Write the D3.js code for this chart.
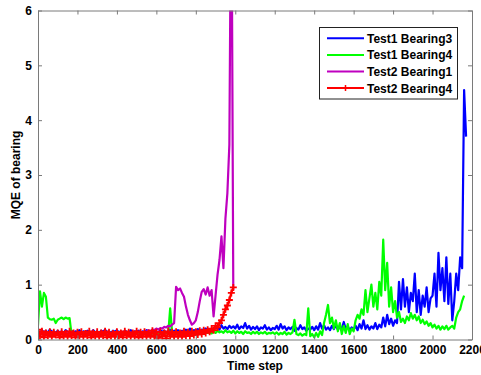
<!DOCTYPE html>
<html>
<head>
<meta charset="utf-8">
<script src="https://cdn.jsdelivr.net/npm/d3@7"></script>
<style>
  body { margin: 0; background: #fff; }
  svg { font-family: Arial, "Liberation Sans", sans-serif; font-weight: bold; }
</style>
</head>
<body>
<svg id="chart" width="481" height="375"></svg>
<script>
// time step between samples
const stepT = 10

const seriesNames = ['Test1 Bearing3', 'Test1 Bearing4', 'Test2 Bearing1', 'Test2 Bearing4']
const seriesColors = ['#0000ff', '#00ff00', '#bf00bf', '#ff0000']

const xTicks = [0, 200, 400, 600, 800, 1000, 1200, 1400, 1600, 1800, 2000, 2200]
const yTicks = [0, 1, 2, 3, 4, 5, 6]

const test1Bearing3 = [
  0.15,0.12,0.17,0.13,0.16,0.12,0.18,0.14,0.15,0.12,
  0.16,0.13,0.15,0.12,0.17,0.14,0.13,0.16,0.12,0.15,
  0.14,0.17,0.12,0.15,0.13,0.16,0.14,0.12,0.17,0.13,
  0.15,0.12,0.16,0.14,0.18,0.13,0.15,0.12,0.16,0.14,
  0.17,0.13,0.15,0.12,0.16,0.14,0.13,0.17,0.12,0.15,
  0.14,0.16,0.12,0.15,0.13,0.17,0.14,0.12,0.16,0.13,
  0.15,0.12,0.17,0.14,0.16,0.13,0.15,0.18,0.13,0.16,
  0.14,0.17,0.13,0.16,0.15,0.18,0.14,0.2,0.15,0.17,
  0.16,0.19,0.15,0.18,0.17,0.2,0.16,0.19,0.18,0.21,
  0.2,0.24,0.18,0.26,0.2,0.23,0.19,0.25,0.21,0.24,
  0.2,0.27,0.19,0.24,0.21,0.3,0.2,0.25,0.18,0.23,
  0.19,0.24,0.17,0.22,0.2,0.26,0.18,0.22,0.17,0.21,
  0.19,0.25,0.18,0.28,0.2,0.24,0.17,0.22,0.19,0.23,
  0.16,0.21,0.18,0.26,0.19,0.22,0.16,0.2,0.18,0.23,
  0.17,0.24,0.18,0.3,0.2,0.26,0.18,0.22,0.17,0.25,
  0.19,0.26,0.18,0.23,0.2,0.32,0.19,0.24,0.17,0.22,
  0.18,0.25,0.17,0.28,0.2,0.35,0.19,0.26,0.18,0.24,
  0.2,0.3,0.19,0.27,0.22,0.4,0.24,0.45,0.28,0.38,
  0.25,0.35,0.3,1.05,0.55,1.1,0.6,0.95,0.5,0.85,
  0.7,1.2,0.5,0.9,0.45,0.8,0.6,0.95,0.5,0.75,
  0.8,1.2,0.6,1.58,0.9,1.3,0.7,1.5,0.65,1.2,
  0.35,0.7,1.2,0.9,1.5,1.3,4.55,3.7
]

const test1Bearing4 = [
  0.25,0.88,0.6,0.85,0.78,0.4,0.37,0.36,0.38,0.3,
  0.36,0.38,0.4,0.37,0.4,0.38,0.39,0.1,0.12,0.09,
  0.11,0.08,0.12,0.1,0.13,0.09,0.11,0.08,0.12,0.1,
  0.09,0.12,0.1,0.13,0.08,0.11,0.1,0.12,0.09,0.11,
  0.12,0.09,0.11,0.1,0.13,0.08,0.12,0.1,0.11,0.09,
  0.1,0.12,0.09,0.11,0.13,0.1,0.12,0.09,0.11,0.1,
  0.12,0.1,0.13,0.11,0.14,0.12,0.1,0.57,0.12,0.13,
  0.1,0.13,0.11,0.12,0.09,0.13,0.1,0.12,0.11,0.13,
  0.12,0.14,0.11,0.13,0.1,0.14,0.12,0.13,0.11,0.15,
  0.12,0.16,0.13,0.15,0.12,0.17,0.13,0.15,0.12,0.16,
  0.11,0.15,0.12,0.14,0.1,0.15,0.12,0.13,0.1,0.14,
  0.11,0.14,0.1,0.13,0.11,0.14,0.1,0.12,0.11,0.13,
  0.1,0.13,0.09,0.12,0.1,0.14,0.09,0.12,0.1,0.13,
  0.36,0.1,0.08,0.11,0.07,0.1,0.08,0.57,0.06,0.1,
  0.04,0.12,0.05,0.15,0.08,0.3,0.45,0.63,0.3,0.4,
  0.2,0.35,0.15,0.3,0.1,0.25,0.12,0.28,0.1,0.2,
  0.15,0.35,0.45,0.38,0.55,0.45,0.9,0.5,0.75,1.0,
  0.6,0.85,0.55,1.05,0.8,1.82,0.9,1.4,0.6,0.95,
  0.5,0.7,0.4,0.5,0.32,0.38,0.3,0.42,0.35,0.48,
  0.38,0.45,0.35,0.42,0.3,0.36,0.28,0.33,0.25,0.3,
  0.22,0.27,0.2,0.25,0.18,0.24,0.19,0.25,0.18,0.22,
  0.25,0.2,0.4,0.5,0.55,0.7,0.8
]

const test2Bearing1 = [
  0.12,0.08,0.14,0.1,0.13,0.09,0.12,0.1,0.14,0.11,
  0.09,0.13,0.1,0.12,0.08,0.14,0.11,0.1,0.13,0.09,
  0.12,0.1,0.14,0.09,0.12,0.11,0.13,0.1,0.12,0.09,
  0.13,0.1,0.12,0.11,0.14,0.09,0.12,0.1,0.13,0.11,
  0.1,0.13,0.11,0.14,0.1,0.12,0.09,0.13,0.11,0.12,
  0.11,0.14,0.12,0.13,0.15,0.14,0.17,0.15,0.18,0.17,
  0.2,0.18,0.21,0.2,0.23,0.22,0.25,0.24,0.27,0.3,
  0.96,0.9,0.93,0.85,0.78,0.6,0.45,0.35,0.27,0.3,
  0.35,0.5,0.7,0.87,0.92,0.82,0.95,0.8,0.9,0.42,
  0.8,1.18,1.45,1.88,1.3,2.2,2.67,3.55,9,0.9
]

const test2Bearing4 = [
  0.18,0.06,0.15,0.04,0.12,0.07,0.14,0.05,0.13,0.08,
  0.12,0.04,0.14,0.06,0.11,0.05,0.15,0.07,0.12,0.04,
  0.13,0.06,0.14,0.05,0.11,0.07,0.15,0.04,0.12,0.06,
  0.14,0.05,0.12,0.07,0.15,0.04,0.13,0.06,0.11,0.05,
  0.14,0.06,0.12,0.04,0.15,0.07,0.13,0.05,0.12,0.06,
  0.15,0.04,0.13,0.06,0.14,0.05,0.12,0.07,0.16,0.05,
  0.13,0.03,0.14,0.06,0.12,0.02,0.15,0.06,0.13,0.05,
  0.14,0.06,0.12,0.05,0.15,0.07,0.13,0.06,0.15,0.08,
  0.14,0.09,0.16,0.1,0.17,0.12,0.18,0.14,0.2,0.17,
  0.25,0.22,0.3,0.35,0.45,0.55,0.62,0.72,0.85,0.95
]

const allSeries = [test1Bearing3, test1Bearing4, test2Bearing1, test2Bearing4]

const mLeft = 38, mRight = 472, mTop = 10.5, mBottom = 339.5

const svg = d3.select('#chart')

const x = d3.scaleLinear().domain([0, 2200]).range([mLeft, mRight])
const y = d3.scaleLinear().domain([0, 6]).range([mBottom, mTop])

svg.append('defs').append('clipPath').attr('id', 'plotClip')
  .append('rect')
  .attr('x', mLeft).attr('y', mTop)
  .attr('width', mRight - mLeft).attr('height', mBottom - mTop)

const line = d3.line()
  .x((d, i) => x(i * stepT))
  .y(d => y(d))

const plot = svg.append('g').attr('clip-path', 'url(#plotClip)')

allSeries.forEach((vals, k) => {
  plot.append('path')
    .datum(vals)
    .attr('d', line)
    .attr('fill', 'none')
    .attr('stroke', seriesColors[k])
    .attr('stroke-width', 2.2)
    .attr('stroke-linejoin', 'round')
})

// + markers on the red series
plot.append('g').selectAll('path')
  .data(test2Bearing4)
  .enter().append('path')
  .attr('d', (d, i) => {
    const cx = x(i * stepT), cy = y(d)
    return `M${cx - 3.5},${cy}H${cx + 3.5}M${cx},${cy - 3.5}V${cy + 3.5}`
  })
  .attr('stroke', seriesColors[3])
  .attr('stroke-width', 1.8)

// axes (MATLAB style box, ticks inward)
const axisColor = '#7a7a7a'
const fmt = d3.format('d')

const xAxis = svg.append('g').attr('transform', `translate(0,${mBottom})`)
  .call(d3.axisBottom(x).tickValues(xTicks).tickFormat(fmt).tickSizeInner(-4).tickSizeOuter(0).tickPadding(6))
const xTopAxis = svg.append('g').attr('transform', `translate(0,${mTop})`)
  .call(d3.axisTop(x).tickValues(xTicks).tickSizeInner(-4).tickSizeOuter(0).tickFormat(''))
const yAxis = svg.append('g').attr('transform', `translate(${mLeft},0)`)
  .call(d3.axisLeft(y).tickValues(yTicks).tickFormat(fmt).tickSizeInner(-4).tickSizeOuter(0).tickPadding(6))
const yRightAxis = svg.append('g').attr('transform', `translate(${mRight},0)`)
  .call(d3.axisRight(y).tickValues(yTicks).tickSizeInner(-4).tickSizeOuter(0).tickFormat(''))

;[xAxis, xTopAxis, yAxis, yRightAxis].forEach(a => {
  a.selectAll('path, line').attr('stroke', axisColor)
  a.selectAll('text').attr('fill', '#000').style('font-size', '12px').style('font-weight', 'bold')
})

svg.append('text')
  .attr('x', (mLeft + mRight) / 2).attr('y', 369.5)
  .attr('text-anchor', 'middle')
  .style('font-size', '12px')
  .text('Time step')

svg.append('text')
  .attr('transform', `translate(19.5,${(mTop + mBottom) / 2}) rotate(-90)`)
  .attr('text-anchor', 'middle')
  .style('font-size', '12px')
  .text('MQE of bearing')

// legend
const legend = svg.append('g')
legend.append('rect')
  .attr('x', 319.5).attr('y', 27.5)
  .attr('width', 138).attr('height', 71.5)
  .attr('fill', '#fff').attr('stroke', '#222')

const items = legend.selectAll('.legends').data(seriesNames)
  .enter().append('g').classed('legends', true)
  .attr('transform', (d, i) => `translate(0,${38.3 + i * 16.6})`)

items.append('line')
  .attr('x1', 327).attr('x2', 364)
  .attr('stroke', (d, i) => seriesColors[i])
  .attr('stroke-width', 2)

items.filter((d, i) => i === 3).append('path')
  .attr('d', 'M342.5,0H348.5M345.5,-3V3')
  .attr('stroke', seriesColors[3])
  .attr('stroke-width', 1.5)

items.append('text')
  .attr('x', 367).attr('y', 4.5)
  .style('font-size', '12px')
  .text(d => d)
</script>
</body>
</html>
